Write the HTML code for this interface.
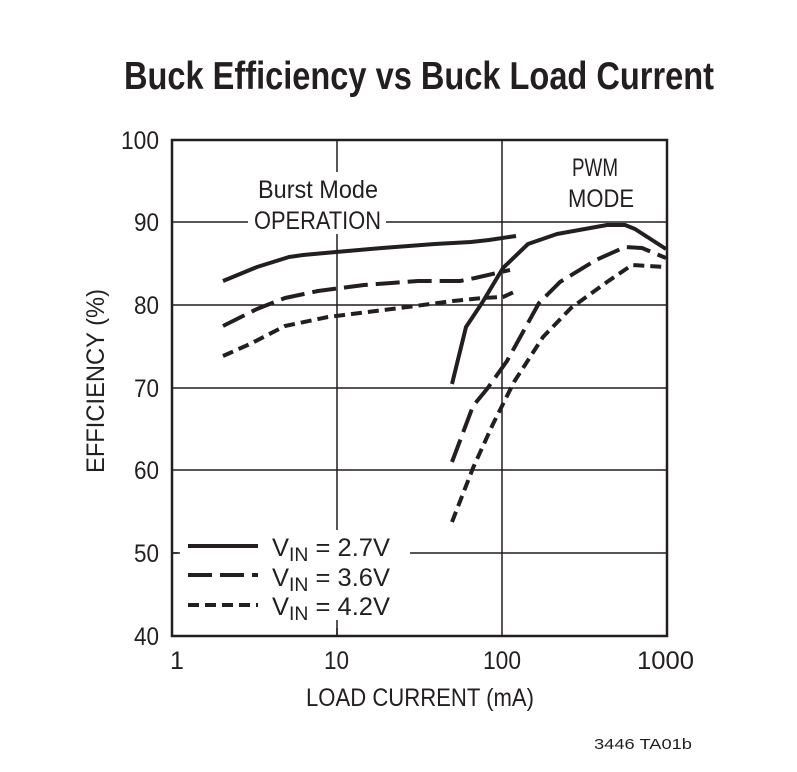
<!DOCTYPE html>
<html><head><meta charset="utf-8"><style>
html,body{margin:0;padding:0;background:#fff;}
svg{display:block;}
text{font-family:"Liberation Sans Narrow","Liberation Sans",sans-serif;fill:#231f20;}
</style></head><body>
<svg width="797" height="772" viewBox="0 0 797 772" xmlns="http://www.w3.org/2000/svg">
<text x="124" y="89" font-size="39" font-weight="bold" textLength="590" lengthAdjust="spacingAndGlyphs">Buck Efficiency vs Buck Load Current</text>
<g stroke="#231f20" stroke-width="1.5" fill="none">
<line x1="172" y1="222" x2="667" y2="222"/>
<line x1="172" y1="305" x2="667" y2="305"/>
<line x1="172" y1="388" x2="667" y2="388"/>
<line x1="172" y1="470" x2="667" y2="470"/>
<line x1="172" y1="553" x2="667" y2="553"/>
<line x1="337" y1="140" x2="337" y2="636"/>
<line x1="502" y1="140" x2="502" y2="636"/>
</g>
<rect x="248" y="172" width="138" height="62" fill="#fff"/>
<rect x="178" y="530" width="232" height="90" fill="#fff"/>
<line x1="172" y1="553" x2="180" y2="553" stroke="#231f20" stroke-width="1.5"/>
<line x1="337" y1="628" x2="337" y2="636" stroke="#231f20" stroke-width="1.5"/>
<rect x="172" y="140" width="495" height="496" fill="none" stroke="#231f20" stroke-width="2.5"/>
<g font-size="25">
<text x="121" y="149" textLength="38" lengthAdjust="spacingAndGlyphs">100</text>
<text x="134" y="231" textLength="25" lengthAdjust="spacingAndGlyphs">90</text>
<text x="134" y="314" textLength="25" lengthAdjust="spacingAndGlyphs">80</text>
<text x="134" y="397" textLength="25" lengthAdjust="spacingAndGlyphs">70</text>
<text x="134" y="479" textLength="25" lengthAdjust="spacingAndGlyphs">60</text>
<text x="134" y="562" textLength="25" lengthAdjust="spacingAndGlyphs">50</text>
<text x="134" y="645" textLength="25" lengthAdjust="spacingAndGlyphs">40</text>
<text x="170" y="669">1</text>
<text x="324" y="669" textLength="25" lengthAdjust="spacingAndGlyphs">10</text>
<text x="483" y="669" textLength="38" lengthAdjust="spacingAndGlyphs">100</text>
<text x="637" y="669" textLength="57" lengthAdjust="spacingAndGlyphs">1000</text>
<text x="306" y="706" textLength="228" lengthAdjust="spacingAndGlyphs">LOAD CURRENT (mA)</text>
<text x="258" y="198" textLength="120" lengthAdjust="spacingAndGlyphs">Burst Mode</text>
<text x="254" y="229" textLength="127" lengthAdjust="spacingAndGlyphs">OPERATION</text>
<text x="572" y="176" textLength="46" lengthAdjust="spacingAndGlyphs">PWM</text>
<text x="568" y="207" textLength="66" lengthAdjust="spacingAndGlyphs">MODE</text>
</g>
<text transform="translate(104,473) rotate(-90)" font-size="25" textLength="184" lengthAdjust="spacingAndGlyphs">EFFICIENCY (%)</text>
<g fill="none" stroke="#231f20" stroke-width="4" stroke-linejoin="round">
<polyline points="223,281 257,267 289,257 303,255 336,252 382,248 435,244 471,242 489,240 516,236"/>
<polyline points="452,384 466,327 482,303 503,268 528,244 557,234 607,225 625,225 635,229 666,249"/>
<polyline stroke-dasharray="24,8" points="223,326 257,309 285,298 318,291 364,285 418,281 460,281 475,278 510,270"/>
<polyline stroke-dasharray="24,8" points="452,462 473,406 487,389 507,361 539,303 560,282 596,260 625,247 642,248 666,258"/>
<polyline stroke-dasharray="11,6" points="223,356 250,344 285,326 328,317 400,308 453,301 482,298 503,297 514,292"/>
<polyline stroke-dasharray="11,6" points="452,522 473,468 493,424 514,382 543,337 571,308 607,282 632,265 666,267"/>
<line x1="188" y1="546" x2="258" y2="546"/>
<line x1="188" y1="575" x2="258" y2="575" stroke-dasharray="24,8"/>
<line x1="188" y1="605" x2="258" y2="605" stroke-dasharray="11,6"/>
</g>
<g font-size="25">
<text x="272" y="556" textLength="118" lengthAdjust="spacingAndGlyphs">V<tspan font-size="19" dy="5">IN</tspan><tspan dy="-5"> = 2.7V</tspan></text>
<text x="272" y="586" textLength="118" lengthAdjust="spacingAndGlyphs">V<tspan font-size="19" dy="5">IN</tspan><tspan dy="-5"> = 3.6V</tspan></text>
<text x="272" y="615" textLength="118" lengthAdjust="spacingAndGlyphs">V<tspan font-size="19" dy="5">IN</tspan><tspan dy="-5"> = 4.2V</tspan></text>
</g>
<text x="594" y="749" font-size="15" textLength="98" lengthAdjust="spacingAndGlyphs">3446 TA01b</text>
</svg>
</body></html>
